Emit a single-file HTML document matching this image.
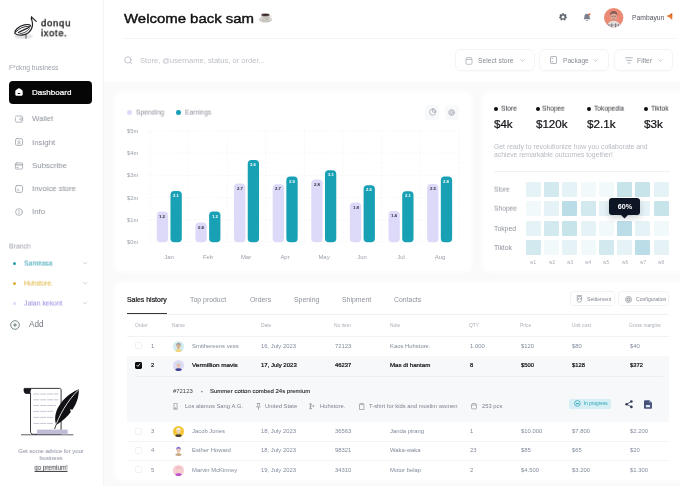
<!DOCTYPE html>
<html><head><meta charset="utf-8"><title>Dashboard</title>
<style>
*{box-sizing:border-box;margin:0;padding:0}
html,body{width:680px;height:486px;overflow:hidden;background:#fafafa}
body{font-family:"Liberation Sans",sans-serif;position:relative;color:#8b919b;-webkit-font-smoothing:antialiased}
.a{position:absolute;white-space:nowrap;line-height:1}
.t{position:absolute;white-space:nowrap;line-height:1;transform:translateY(-50%)}
.tc{position:absolute;white-space:nowrap;line-height:1;transform:translate(-50%,-50%)}
.med{-webkit-text-stroke:0.22px currentColor}
.med2{-webkit-text-stroke:0.1px currentColor}
svg{position:absolute;overflow:visible}
.a,.t,.tc{will-change:transform}
</style></head>
<body>
<div class="a" style="left:0;top:0;width:104px;height:486px;background:#fff;border-right:1px solid #f3f3f4"></div>
<svg style="left:0;top:0" width="103" height="50" viewBox="0 0 103 50">
<ellipse cx="23.6" cy="36.4" rx="9.2" ry="2.7" fill="#e4e4e6"/>
<g fill="none" stroke="#202024" stroke-linecap="round" stroke-linejoin="round">
<path d="M36.2 21.4 L31.5 16.9 C30.8 18.6 32.9 21.6 32.5 25.2 C32.1 28.4 30.6 31 28.4 32.8 C25 35.4 18.6 36.2 15 33.6 C14.2 30.2 18.6 26.2 24.4 24.9 C27.2 24.3 29.8 24.5 30.6 25.6 C30.2 28 24.6 28.6 18.4 32.6" stroke-width="1.15"/>
<path d="M31.5 16.9 L31.2 19.4" stroke-width="0.8"/>
<path d="M16.4 31.6 C18.6 28.6 23.4 26.4 28.8 26.2" stroke-width="0.9"/>
<path d="M20 33.6 C23 33.6 27.2 31.8 29.6 28.6" stroke-width="0.8"/>
<path d="M26 35.2 V38.2" stroke-width="0.8"/>
</g>
</svg>
<div class="a" style="left:41.00px;top:22.85px;font-size:9.6px;color:#191919;letter-spacing:0.7px;transform:translateY(-50%) scaleX(0.994);transform-origin:0 50%;-webkit-text-stroke:0.32px #191919;">donqu</div>
<div class="a" style="left:41.00px;top:33.45px;font-size:9.6px;color:#191919;letter-spacing:0.7px;transform:translateY(-50%) scaleX(0.973);transform-origin:0 50%;-webkit-text-stroke:0.32px #191919;">ixote.</div>
<div class="a" style="left:9.30px;top:68.05px;font-size:6.6px;color:#9a9fa7;transform:translateY(-50%) scaleX(1.022);transform-origin:0 50%;">F*ckng business</div>
<div class="a" style="left:9.4px;top:80.7px;width:82.6px;height:22.7px;background:#060606;border-radius:4px"></div>
<svg style="left:15.2px;top:88.3px" width="8" height="8" viewBox="0 0 8 8"><path d="M0.3 3.4 C0.3 2.8 0.6 2.4 1 2.1 L3.2 0.5 C3.7 0.1 4.3 0.1 4.8 0.5 L7 2.1 C7.4 2.4 7.7 2.8 7.7 3.4 V6.2 C7.7 7.2 7 7.8 6 7.8 H2 C1 7.8 0.3 7.2 0.3 6.2 Z" fill="#fff"/><rect x="2.6" y="5" width="2.8" height="1" rx="0.5" fill="#0a0a0a"/></svg>
<div class="a med" style="left:32.20px;top:93.25px;font-size:7.8px;color:#fff;transform:translateY(-50%) scaleX(1.033);transform-origin:0 50%;">Dashboard</div>
<div class="a" style="left:32.20px;top:119.45px;font-size:7.9px;color:#8d929a;transform:translateY(-50%) scaleX(0.974);transform-origin:0 50%;">Wallet</div>
<svg style="left:15.3px;top:115.2px" width="8" height="8" viewBox="0 0 8 8" fill="none" stroke="#9aa0a8" stroke-width="0.75" stroke-linecap="round" stroke-linejoin="round"><path d="M1.6 1 H6 C7 1 7.6 1.6 7.6 2.6 V5.6 C7.6 6.6 7 7.2 6 7.2 H2 C1 7.2 0.4 6.6 0.4 5.6 V3"/><path d="M7.6 3.2 H5.6 C5 3.2 4.7 3.6 4.7 4.1 C4.7 4.6 5 5 5.6 5 H7.6"/><path d="M0.4 1 H0.5"/></svg>
<div class="a" style="left:32.20px;top:142.65px;font-size:7.9px;color:#8d929a;transform:translateY(-50%) scaleX(0.992);transform-origin:0 50%;">Insight</div>
<svg style="left:15.3px;top:138.39999999999998px" width="8" height="8" viewBox="0 0 8 8" fill="none" stroke="#9aa0a8" stroke-width="0.75" stroke-linecap="round" stroke-linejoin="round"><rect x="0.5" y="0.6" width="7" height="6.8" rx="1.4"/><path d="M4 2.2 V4.6 M2.6 3.4 L4 4.7 L5.4 3.4 M2.4 5.8 H5.6" stroke-width="0.6"/></svg>
<div class="a" style="left:32.20px;top:165.95px;font-size:7.9px;color:#8d929a;transform:translateY(-50%) scaleX(0.993);transform-origin:0 50%;">Subscribe</div>
<svg style="left:15.3px;top:161.7px" width="8" height="8" viewBox="0 0 8 8" fill="none" stroke="#9aa0a8" stroke-width="0.75" stroke-linecap="round" stroke-linejoin="round"><rect x="0.4" y="0.9" width="7.2" height="6.2" rx="1.1"/><path d="M0.4 2.9 H7.6" stroke-width="1"/><path d="M1.8 5.4 H3.2"/></svg>
<div class="a" style="left:32.20px;top:189.25px;font-size:7.9px;color:#8d929a;transform:translateY(-50%) scaleX(0.982);transform-origin:0 50%;">Invoice store</div>
<svg style="left:15.3px;top:185.0px" width="8" height="8" viewBox="0 0 8 8" fill="none" stroke="#9aa0a8" stroke-width="0.75" stroke-linecap="round" stroke-linejoin="round"><rect x="0.5" y="0.6" width="7" height="6.8" rx="1.5"/><path d="M2.2 4 C3.4 4 4 4.6 4 5.8 M2.2 5.6 V5.8" stroke-width="0.65"/></svg>
<div class="a" style="left:32.20px;top:212.15px;font-size:7.9px;color:#8d929a;transform:translateY(-50%) scaleX(0.987);transform-origin:0 50%;">Info</div>
<svg style="left:15.3px;top:207.89999999999998px" width="8" height="8" viewBox="0 0 8 8" fill="none" stroke="#9aa0a8" stroke-width="0.75" stroke-linecap="round" stroke-linejoin="round"><circle cx="4" cy="4" r="3.4"/><path d="M4 2.4 V4.3 M4 5.5 V5.6"/></svg>
<div class="a" style="left:9.30px;top:246.65px;font-size:6.9px;color:#9a9fa7;transform:translateY(-50%) scaleX(0.988);transform-origin:0 50%;">Branch</div>
<div class="a" style="left:13px;top:261.59999999999997px;width:3.2px;height:3.2px;border-radius:50%;background:#2a9cb0"></div>
<div class="a" style="left:24.40px;top:263.65px;font-size:6.9px;color:#2a9cb0;transform:translateY(-50%) scaleX(0.974);transform-origin:0 50%;">Samirasa</div>
<svg style="left:82.6px;top:262.0px" width="4.4" height="2.6" viewBox="0 0 5 3"><path d="M0.4 0.4 L2.5 2.4 L4.6 0.4" fill="none" stroke="#b9bec6" stroke-width="0.8" stroke-linecap="round" stroke-linejoin="round"/></svg>
<div class="a" style="left:13px;top:281.7px;width:3.2px;height:3.2px;border-radius:50%;background:#ddb033"></div>
<div class="a" style="left:24.40px;top:283.75px;font-size:6.9px;color:#ddb033;transform:translateY(-50%) scaleX(0.966);transform-origin:0 50%;">Huhstore.</div>
<svg style="left:82.6px;top:282.1px" width="4.4" height="2.6" viewBox="0 0 5 3"><path d="M0.4 0.4 L2.5 2.4 L4.6 0.4" fill="none" stroke="#b9bec6" stroke-width="0.8" stroke-linecap="round" stroke-linejoin="round"/></svg>
<div class="a" style="left:13px;top:301.5px;width:3.2px;height:3.2px;border-radius:50%;background:#dcd8f8"></div>
<div class="a" style="left:24.40px;top:303.55px;font-size:6.9px;color:#948ae2;transform:translateY(-50%) scaleX(0.991);transform-origin:0 50%;">Jalan kekont</div>
<svg style="left:82.6px;top:301.90000000000003px" width="4.4" height="2.6" viewBox="0 0 5 3"><path d="M0.4 0.4 L2.5 2.4 L4.6 0.4" fill="none" stroke="#b9bec6" stroke-width="0.8" stroke-linecap="round" stroke-linejoin="round"/></svg>
<svg style="left:10px;top:319.8px" width="10" height="10" viewBox="0 0 10 10"><circle cx="5" cy="5" r="4.3" fill="none" stroke="#3d5a55" stroke-width="0.7"/><path d="M5 3.4 V6.6 M3.4 5 H6.6" stroke="#3d5a55" stroke-width="0.7" stroke-linecap="round"/></svg>
<div class="a" style="left:28.60px;top:325.25px;font-size:8.2px;color:#70767f;transform:translateY(-50%) scaleX(1.001);transform-origin:0 50%;">Add</div>
<svg style="left:20px;top:386px" width="62" height="52" viewBox="0 0 62 52">
<path d="M1 48.8 H53.4" stroke="#2a2a33" stroke-width="0.75"/>
<path d="M4.4 2.4 H39.6 C40.6 2.4 41.1 3 41.1 4 V48.3 H13.4 C11.4 48.3 10.5 47.2 10.5 45 V7.4 H6.2 C4.4 7.4 3.8 5.4 4.4 2.4 Z" fill="#fff" stroke="#17171e" stroke-width="0.85" stroke-linejoin="round"/>
<path d="M3.9 2.4 H11.6 C10.6 3.6 10.5 5.4 10.5 7.4 H6.2 C4.2 7.4 3.5 4.6 3.9 2.4 Z" fill="#17171e"/>
<rect x="17.1" y="43.6" width="30.6" height="4.7" fill="#bfbdd6"/>
<g stroke="#aeaec4" stroke-width="0.7" stroke-dasharray="6 0.8">
<path d="M13.4 8 H38.4"/><path d="M13.4 13.8 H38.4"/><path d="M13.4 19.5 H36"/><path d="M13.4 25.4 H34"/><path d="M13.4 31.4 H33"/><path d="M13.4 37.4 H33.6"/>
</g>
<path d="M36.2 38.9 C33.6 31 36 23.4 41.4 16.4 C46 10.4 52.6 5.6 58.8 3.2 C59.2 9.6 57 17 52.4 23.8 L50 23.2 L50.8 26 C47.4 30.4 42.6 35.4 36.2 38.9 Z" fill="#111115"/>
<path d="M34.8 42.4 C38.6 30 47.6 14.4 58.2 4.2" fill="none" stroke="#fff" stroke-width="0.85"/>
<path d="M34.6 43 L36.6 37.6" stroke="#111115" stroke-width="0.8"/>
</svg>
<div class="a" style="left:50.70px;top:451.25px;font-size:6.0px;color:#868aa0;transform:translate(-50%,-50%) scaleX(0.974);transform-origin:50% 50%;">Get some advice for your</div>
<div class="a" style="left:50.70px;top:458.05px;font-size:6.0px;color:#868aa0;transform:translate(-50%,-50%) scaleX(0.954);transform-origin:50% 50%;">business</div>
<div class="a" style="left:50.80px;top:468.25px;font-size:6.3px;color:#2b2b33;transform:translate(-50%,-50%) scaleX(0.940);transform-origin:50% 50%;text-decoration:underline;">go premium!</div>
<div class="a" style="left:104px;top:0;width:576px;height:82px;background:#fff"></div>
<div class="a" style="left:123.50px;top:18.65px;font-size:13.5px;color:#111;transform:translateY(-50%) scaleX(1.106);transform-origin:0 50%;-webkit-text-stroke:0.42px #111;">Welcome back sam</div>
<svg style="left:0;top:0" width="300" height="30" viewBox="0 0 300 30">
<ellipse cx="265.5" cy="19.5" rx="6.6" ry="2.9" fill="#bdbab3"/>
<ellipse cx="265.5" cy="19.1" rx="6.3" ry="2.5" fill="#dddbd5"/>
<ellipse cx="265.4" cy="19.4" rx="3.6" ry="1.3" fill="#b9b6ae"/>
<path d="M269.2 15.6 C271.4 15.2 271.6 17.4 269 17.9" fill="none" stroke="#cfccc5" stroke-width="0.8"/>
<path d="M261.2 14.8 H269.6 C269.6 17.6 268.4 20.2 265.4 20.2 C262.4 20.2 261.2 17.6 261.2 14.8 Z" fill="#c6c3bc"/>
<path d="M262.6 16.6 C262.8 18.4 263.6 19.6 265 19.9" fill="none" stroke="#e9e7e2" stroke-width="0.7"/>
<ellipse cx="265.4" cy="14.9" rx="4.1" ry="1.35" fill="#2b1a18" stroke="#d9d6cf" stroke-width="0.5"/>
</svg>
<div class="a" style="left:123px;top:37.8px;width:552px;height:1px;background:#f3f3f4"></div>
<svg style="left:123.6px;top:56px" width="9" height="9" viewBox="0 0 9 9" fill="none" stroke="#b4b9c0" stroke-width="0.8" stroke-linecap="round"><circle cx="3.9" cy="3.9" r="3.2"/><path d="M6.3 6.3 L8 8"/></svg>
<div class="a" style="left:139.50px;top:60.75px;font-size:6.8px;color:#bdc1c8;transform:translateY(-50%) scaleX(1.116);transform-origin:0 50%;">Store, @username, status, or order...</div>
<svg style="left:559.2px;top:13.4px" width="8" height="8" viewBox="0 0 8 8"><path d="M3.3 0.2 H4.7 L4.95 1.2 L5.7 1.55 L6.6 1.05 L7.5 2.15 L6.9 3 L7.05 3.6 L7.9 4 L7.7 5.2 L6.75 5.35 L6.35 6 L6.6 6.9 L5.5 7.55 L4.8 6.85 H3.2 L2.5 7.55 L1.4 6.9 L1.65 6 L1.25 5.35 L0.3 5.2 L0.1 4 L0.95 3.6 L1.1 3 L0.5 2.15 L1.4 1.05 L2.3 1.55 L3.05 1.2 Z" fill="#5f646e"/><circle cx="4" cy="4" r="1.5" fill="#fff"/></svg>
<svg style="left:582.6px;top:13px" width="9" height="9" viewBox="0 0 9 9"><path d="M4 0.8 C5.7 0.8 6.6 2 6.6 3.6 C6.6 5 7 5.6 7.5 6.3 H0.5 C1 5.6 1.4 5 1.4 3.6 C1.4 2 2.3 0.8 4 0.8 Z" fill="#7b808a"/><path d="M3 7 C3.2 8.2 4.8 8.2 5 7 Z" fill="#7b808a"/><circle cx="6.5" cy="1.3" r="1" fill="#f0643c"/></svg>
<svg style="left:604px;top:8px" width="19.4" height="19.4" viewBox="0 0 20 20"><defs><clipPath id="av"><circle cx="10" cy="10" r="10"/></clipPath></defs><circle cx="10" cy="10" r="10" fill="#ea8a74"/><g clip-path="url(#av)"><path d="M3 21 C3 15.4 6 13.4 10 13.4 C14 13.4 17 15.4 17 21 Z" fill="#e4dedc"/><path d="M5 21 V17 M8 21 V16 M12 21 V16 M15 21 V17" stroke="#6d6a72" stroke-width="1.1"/><path d="M4 17.6 H16" stroke="#8d8a92" stroke-width="0.8"/><ellipse cx="10" cy="8.8" rx="3.5" ry="4.2" fill="#dfa796"/><path d="M6.2 8 C5.8 4.6 7.8 3.2 10 3.2 C12.2 3.2 14.2 4.6 13.8 8 C13 6.4 12 6 10 6 C8 6 7 6.4 6.2 8 Z" fill="#8a5e58"/><path d="M7.8 8.6 H9.4 M10.6 8.6 H12.2" stroke="#6a4a48" stroke-width="0.7"/><path d="M8.2 11 C9 12.6 11 12.6 11.8 11 Z" fill="#a8746a"/></g></svg>
<div class="a" style="left:631.70px;top:18.15px;font-size:6.6px;color:#4f535b;transform:translateY(-50%) scaleX(1.024);transform-origin:0 50%;">Pambayun</div>
<svg style="left:665.6px;top:13.3px" width="7" height="7" viewBox="0 0 7 7"><path d="M0.4 2.9 L6 0.4 L5.8 6.6 L3.4 4.6 Z" fill="#ea7a30"/><path d="M4.4 1.1 L6 0.4 L5.9 3" fill="#a8541c"/><path d="M6.05 0.4 L5.85 6.6" stroke="#c85a22" stroke-width="0.6"/></svg>
<div class="a" style="left:455px;top:49.2px;width:80px;height:21.8px;background:#fff;border:1px solid #f4f4f6;border-radius:6px;box-shadow:0 0.5px 1.5px rgba(0,0,0,0.025)"></div>
<svg style="left:465.2px;top:56.6px" width="8" height="8" viewBox="0 0 8 8" fill="none" stroke="#a3a8b0" stroke-width="0.7" stroke-linejoin="round"><path d="M1 2.4 L1.8 0.6 H6.2 L7 2.4 V6.2 C7 6.9 6.6 7.3 5.9 7.3 H2.1 C1.4 7.3 1 6.9 1 6.2 Z"/><path d="M1 2.4 H7"/></svg>
<div class="a" style="left:477.80px;top:60.85px;font-size:6.4px;color:#878c95;transform:translateY(-50%) scaleX(1.053);transform-origin:0 50%;">Select store</div>
<svg style="left:519.6px;top:59.2px" width="5" height="3" viewBox="0 0 5 3"><path d="M0.5 0.4 L2.5 2.4 L4.5 0.4" fill="none" stroke="#b4b8bf" stroke-width="0.7" stroke-linecap="round" stroke-linejoin="round"/></svg>
<div class="a" style="left:539.4px;top:49.2px;width:70.2px;height:21.8px;background:#fff;border:1px solid #f4f4f6;border-radius:6px;box-shadow:0 0.5px 1.5px rgba(0,0,0,0.025)"></div>
<svg style="left:550.2px;top:56.4px" width="7" height="8" viewBox="0 0 7 8" fill="none" stroke="#969ca4" stroke-width="0.7" stroke-linejoin="round"><rect x="0.5" y="0.5" width="6" height="7" rx="0.6"/><path d="M1.6 2.2 L2.3 2.9 L3.6 1.6 M1.6 5.8 H3.2"/></svg>
<div class="a" style="left:562.60px;top:60.85px;font-size:6.4px;color:#878c95;transform:translateY(-50%) scaleX(1.036);transform-origin:0 50%;">Package</div>
<svg style="left:593px;top:59.2px" width="5" height="3" viewBox="0 0 5 3"><path d="M0.5 0.4 L2.5 2.4 L4.5 0.4" fill="none" stroke="#b4b8bf" stroke-width="0.7" stroke-linecap="round" stroke-linejoin="round"/></svg>
<div class="a" style="left:614px;top:49.2px;width:59px;height:21.8px;background:#fff;border:1px solid #f4f4f6;border-radius:6px;box-shadow:0 0.5px 1.5px rgba(0,0,0,0.025)"></div>
<svg style="left:624.6px;top:57.2px" width="8" height="7" viewBox="0 0 8 7" fill="none" stroke="#969ca4" stroke-width="0.7" stroke-linecap="round"><path d="M0.5 0.8 H7.5 M1.7 3.4 H6.3 M3 6 H5"/></svg>
<div class="a" style="left:636.60px;top:60.85px;font-size:6.4px;color:#878c95;transform:translateY(-50%) scaleX(1.069);transform-origin:0 50%;">Filter</div>
<svg style="left:657.6px;top:59.2px" width="5" height="3" viewBox="0 0 5 3"><path d="M0.5 0.4 L2.5 2.4 L4.5 0.4" fill="none" stroke="#b4b8bf" stroke-width="0.7" stroke-linecap="round" stroke-linejoin="round"/></svg>
<div class="a" style="left:114.8px;top:92.4px;width:356px;height:179.4px;background:#fff;border-radius:7px;box-shadow:0 0 0 2.8px #fcfcfc"></div>
<svg style="left:0;top:0" width="680" height="486" viewBox="0 0 680 486">
<path d="M150 241.80 H459" stroke="#f3f3f5" stroke-width="0.7" stroke-dasharray="2.2 2.2" fill="none"/>
<path d="M150 219.64 H459" stroke="#f3f3f5" stroke-width="0.7" stroke-dasharray="2.2 2.2" fill="none"/>
<path d="M150 197.48 H459" stroke="#f3f3f5" stroke-width="0.7" stroke-dasharray="2.2 2.2" fill="none"/>
<path d="M150 175.32 H459" stroke="#f3f3f5" stroke-width="0.7" stroke-dasharray="2.2 2.2" fill="none"/>
<path d="M150 153.16 H459" stroke="#f3f3f5" stroke-width="0.7" stroke-dasharray="2.2 2.2" fill="none"/>
<path d="M150 131.00 H459" stroke="#f3f3f5" stroke-width="0.7" stroke-dasharray="2.2 2.2" fill="none"/>
<path d="M150.00 131.00 V241.80" stroke="#f3f3f5" stroke-width="0.7" stroke-dasharray="2.2 2.2" fill="none"/>
<path d="M188.62 131.00 V241.80" stroke="#f3f3f5" stroke-width="0.7" stroke-dasharray="2.2 2.2" fill="none"/>
<path d="M227.24 131.00 V241.80" stroke="#f3f3f5" stroke-width="0.7" stroke-dasharray="2.2 2.2" fill="none"/>
<path d="M265.86 131.00 V241.80" stroke="#f3f3f5" stroke-width="0.7" stroke-dasharray="2.2 2.2" fill="none"/>
<path d="M304.48 131.00 V241.80" stroke="#f3f3f5" stroke-width="0.7" stroke-dasharray="2.2 2.2" fill="none"/>
<path d="M343.10 131.00 V241.80" stroke="#f3f3f5" stroke-width="0.7" stroke-dasharray="2.2 2.2" fill="none"/>
<path d="M381.72 131.00 V241.80" stroke="#f3f3f5" stroke-width="0.7" stroke-dasharray="2.2 2.2" fill="none"/>
<path d="M420.34 131.00 V241.80" stroke="#f3f3f5" stroke-width="0.7" stroke-dasharray="2.2 2.2" fill="none"/>
<path d="M458.96 131.00 V241.80" stroke="#f3f3f5" stroke-width="0.7" stroke-dasharray="2.2 2.2" fill="none"/>
<rect x="156.80" y="211.6" width="11.3" height="30.60" rx="3.8" fill="#ddd9f8"/>
<rect x="170.50" y="190.9" width="11.3" height="51.30" rx="3.8" fill="#18a0b5"/>
<rect x="195.42" y="222.4" width="11.3" height="19.80" rx="3.8" fill="#ddd9f8"/>
<rect x="209.12" y="211.5" width="11.3" height="30.70" rx="3.8" fill="#18a0b5"/>
<rect x="234.04" y="183.6" width="11.3" height="58.60" rx="3.8" fill="#ddd9f8"/>
<rect x="247.74" y="160.0" width="11.3" height="82.20" rx="3.8" fill="#18a0b5"/>
<rect x="272.66" y="184.2" width="11.3" height="58.00" rx="3.8" fill="#ddd9f8"/>
<rect x="286.36" y="176.6" width="11.3" height="65.60" rx="3.8" fill="#18a0b5"/>
<rect x="311.28" y="179.4" width="11.3" height="62.80" rx="3.8" fill="#ddd9f8"/>
<rect x="324.98" y="170.2" width="11.3" height="72.00" rx="3.8" fill="#18a0b5"/>
<rect x="349.90" y="202.4" width="11.3" height="39.80" rx="3.8" fill="#ddd9f8"/>
<rect x="363.60" y="185.2" width="11.3" height="57.00" rx="3.8" fill="#18a0b5"/>
<rect x="388.52" y="211.0" width="11.3" height="31.20" rx="3.8" fill="#ddd9f8"/>
<rect x="402.22" y="191.2" width="11.3" height="51.00" rx="3.8" fill="#18a0b5"/>
<rect x="427.14" y="184.0" width="11.3" height="58.20" rx="3.8" fill="#ddd9f8"/>
<rect x="440.84" y="176.6" width="11.3" height="65.60" rx="3.8" fill="#18a0b5"/>
</svg>
<div class="a" style="left:127.3px;top:110.3px;width:4.6px;height:4.6px;border-radius:50%;background:#ddd9f8"></div>
<div class="a" style="left:135.90px;top:112.95px;font-size:6.8px;color:#8d929a;transform:translateY(-50%) scaleX(0.978);transform-origin:0 50%;">Spending</div>
<div class="a" style="left:175.6px;top:110.3px;width:4.7px;height:4.7px;border-radius:50%;background:#18a0b5"></div>
<div class="a" style="left:184.70px;top:112.95px;font-size:6.8px;color:#8d929a;transform:translateY(-50%) scaleX(0.976);transform-origin:0 50%;">Earnings</div>
<div class="a" style="left:425.3px;top:104.8px;width:14.2px;height:14.8px;background:#f8f9fb;border-radius:3px"></div>
<div class="a" style="left:444.6px;top:104.8px;width:14.2px;height:14.8px;background:#f8f9fb;border-radius:3px"></div>
<svg style="left:428.7px;top:108.4px" width="7.6" height="7.6" viewBox="0 0 7 7" fill="none" stroke="#a3a8b1" stroke-width="0.7" stroke-linejoin="round"><circle cx="3.3" cy="3.8" r="2.8"/><path d="M3.3 3.8 V0.6 C5 0.6 6.4 1.9 6.5 3.8 Z"/></svg>
<svg style="left:448.2px;top:108.6px" width="7.2" height="7.2" viewBox="0 0 7 7" fill="none" stroke="#a3a8b1" stroke-width="0.6"><circle cx="3.5" cy="3.5" r="2.7" stroke-dasharray="1.2 0.5" stroke-width="1"/><circle cx="3.5" cy="3.5" r="1.9"/><circle cx="3.5" cy="3.5" r="0.8"/></svg>
<div class="a" style="left:127.00px;top:242.95px;font-size:5.5px;color:#9ba0a8;transform:translateY(-50%) scaleX(1.047);transform-origin:0 50%;">$0m</div>
<div class="a" style="left:127.00px;top:220.79px;font-size:5.5px;color:#9ba0a8;transform:translateY(-50%) scaleX(1.047);transform-origin:0 50%;">$1m</div>
<div class="a" style="left:127.00px;top:198.63px;font-size:5.5px;color:#9ba0a8;transform:translateY(-50%) scaleX(1.047);transform-origin:0 50%;">$2m</div>
<div class="a" style="left:127.00px;top:176.47px;font-size:5.5px;color:#9ba0a8;transform:translateY(-50%) scaleX(1.047);transform-origin:0 50%;">$3m</div>
<div class="a" style="left:127.00px;top:154.31px;font-size:5.5px;color:#9ba0a8;transform:translateY(-50%) scaleX(1.047);transform-origin:0 50%;">$4m</div>
<div class="a" style="left:127.00px;top:132.15px;font-size:5.5px;color:#9ba0a8;transform:translateY(-50%) scaleX(1.047);transform-origin:0 50%;">$5m</div>
<div class="a" style="left:162.45px;top:216.75px;font-size:4.3px;color:#2b2b3a;font-weight:bold;transform:translate(-50%,-50%) scaleX(1.000);transform-origin:50% 50%;">1.2</div>
<div class="a" style="left:176.15px;top:196.05px;font-size:4.3px;color:#fff;font-weight:bold;transform:translate(-50%,-50%) scaleX(1.000);transform-origin:50% 50%;">2.1</div>
<div class="a" style="left:169.20px;top:257.65px;font-size:5.5px;color:#9ba0a8;transform:translate(-50%,-50%) scaleX(1.080);transform-origin:50% 50%;">Jan</div>
<div class="a" style="left:201.07px;top:227.55px;font-size:4.3px;color:#2b2b3a;font-weight:bold;transform:translate(-50%,-50%) scaleX(1.000);transform-origin:50% 50%;">0.8</div>
<div class="a" style="left:214.77px;top:216.65px;font-size:4.3px;color:#fff;font-weight:bold;transform:translate(-50%,-50%) scaleX(1.000);transform-origin:50% 50%;">1.2</div>
<div class="a" style="left:207.82px;top:257.65px;font-size:5.5px;color:#9ba0a8;transform:translate(-50%,-50%) scaleX(1.080);transform-origin:50% 50%;">Feb</div>
<div class="a" style="left:239.69px;top:188.75px;font-size:4.3px;color:#2b2b3a;font-weight:bold;transform:translate(-50%,-50%) scaleX(1.000);transform-origin:50% 50%;">2.7</div>
<div class="a" style="left:253.39px;top:165.15px;font-size:4.3px;color:#fff;font-weight:bold;transform:translate(-50%,-50%) scaleX(1.000);transform-origin:50% 50%;">3.6</div>
<div class="a" style="left:246.44px;top:257.65px;font-size:5.5px;color:#9ba0a8;transform:translate(-50%,-50%) scaleX(1.080);transform-origin:50% 50%;">Mar</div>
<div class="a" style="left:278.31px;top:189.35px;font-size:4.3px;color:#2b2b3a;font-weight:bold;transform:translate(-50%,-50%) scaleX(1.000);transform-origin:50% 50%;">2.7</div>
<div class="a" style="left:292.01px;top:181.75px;font-size:4.3px;color:#fff;font-weight:bold;transform:translate(-50%,-50%) scaleX(1.000);transform-origin:50% 50%;">2.9</div>
<div class="a" style="left:285.06px;top:257.65px;font-size:5.5px;color:#9ba0a8;transform:translate(-50%,-50%) scaleX(1.080);transform-origin:50% 50%;">Apr</div>
<div class="a" style="left:316.93px;top:184.55px;font-size:4.3px;color:#2b2b3a;font-weight:bold;transform:translate(-50%,-50%) scaleX(1.000);transform-origin:50% 50%;">2.8</div>
<div class="a" style="left:330.63px;top:175.35px;font-size:4.3px;color:#fff;font-weight:bold;transform:translate(-50%,-50%) scaleX(1.000);transform-origin:50% 50%;">3.1</div>
<div class="a" style="left:323.68px;top:257.65px;font-size:5.5px;color:#9ba0a8;transform:translate(-50%,-50%) scaleX(1.080);transform-origin:50% 50%;">May</div>
<div class="a" style="left:355.55px;top:207.55px;font-size:4.3px;color:#2b2b3a;font-weight:bold;transform:translate(-50%,-50%) scaleX(1.000);transform-origin:50% 50%;">1.8</div>
<div class="a" style="left:369.25px;top:190.35px;font-size:4.3px;color:#fff;font-weight:bold;transform:translate(-50%,-50%) scaleX(1.000);transform-origin:50% 50%;">2.6</div>
<div class="a" style="left:362.30px;top:257.65px;font-size:5.5px;color:#9ba0a8;transform:translate(-50%,-50%) scaleX(1.080);transform-origin:50% 50%;">Jun</div>
<div class="a" style="left:394.17px;top:216.15px;font-size:4.3px;color:#2b2b3a;font-weight:bold;transform:translate(-50%,-50%) scaleX(1.000);transform-origin:50% 50%;">1.4</div>
<div class="a" style="left:407.87px;top:196.35px;font-size:4.3px;color:#fff;font-weight:bold;transform:translate(-50%,-50%) scaleX(1.000);transform-origin:50% 50%;">2.1</div>
<div class="a" style="left:400.92px;top:257.65px;font-size:5.5px;color:#9ba0a8;transform:translate(-50%,-50%) scaleX(1.080);transform-origin:50% 50%;">Jul</div>
<div class="a" style="left:432.79px;top:189.15px;font-size:4.3px;color:#2b2b3a;font-weight:bold;transform:translate(-50%,-50%) scaleX(1.000);transform-origin:50% 50%;">2.5</div>
<div class="a" style="left:446.49px;top:181.75px;font-size:4.3px;color:#fff;font-weight:bold;transform:translate(-50%,-50%) scaleX(1.000);transform-origin:50% 50%;">2.8</div>
<div class="a" style="left:439.54px;top:257.65px;font-size:5.5px;color:#9ba0a8;transform:translate(-50%,-50%) scaleX(1.080);transform-origin:50% 50%;">Aug</div>
<div class="a" style="left:482.6px;top:92.4px;width:210px;height:179.2px;background:#fff;border-radius:7px;box-shadow:0 0 0 2.8px #fcfcfc"></div>
<div class="a" style="left:494.09999999999997px;top:106.7px;width:4.2px;height:4.2px;border-radius:50%;background:#0d0d0d"></div>
<div class="a" style="left:500.60px;top:109.15px;font-size:6.7px;color:#2d2f34;transform:translateY(-50%) scaleX(0.993);transform-origin:0 50%;">Store</div>
<div class="a med" style="left:493.80px;top:123.75px;font-size:10.7px;color:#111215;transform:translateY(-50%) scaleX(1.078);transform-origin:0 50%;">$4k</div>
<div class="a" style="left:535.9px;top:106.7px;width:4.2px;height:4.2px;border-radius:50%;background:#0d0d0d"></div>
<div class="a" style="left:542.40px;top:109.15px;font-size:6.7px;color:#2d2f34;transform:translateY(-50%) scaleX(0.983);transform-origin:0 50%;">Shopee</div>
<div class="a med" style="left:535.90px;top:123.75px;font-size:10.7px;color:#111215;transform:translateY(-50%) scaleX(1.080);transform-origin:0 50%;">$120k</div>
<div class="a" style="left:587.3px;top:106.7px;width:4.2px;height:4.2px;border-radius:50%;background:#0d0d0d"></div>
<div class="a" style="left:593.80px;top:109.15px;font-size:6.7px;color:#2d2f34;transform:translateY(-50%) scaleX(0.982);transform-origin:0 50%;">Tokopedia</div>
<div class="a med" style="left:586.80px;top:123.75px;font-size:10.7px;color:#111215;transform:translateY(-50%) scaleX(1.089);transform-origin:0 50%;">$2.1k</div>
<div class="a" style="left:644.1px;top:106.7px;width:4.2px;height:4.2px;border-radius:50%;background:#0d0d0d"></div>
<div class="a" style="left:650.60px;top:109.15px;font-size:6.7px;color:#2d2f34;transform:translateY(-50%) scaleX(0.999);transform-origin:0 50%;">Tiktok</div>
<div class="a med" style="left:643.80px;top:123.75px;font-size:10.7px;color:#111215;transform:translateY(-50%) scaleX(1.090);transform-origin:0 50%;">$3k</div>
<div class="a" style="left:493.80px;top:146.85px;font-size:6.6px;color:#b6bac2;transform:translateY(-50%) scaleX(1.035);transform-origin:0 50%;">Get ready to revolutionize how you collaborate and</div>
<div class="a" style="left:493.80px;top:155.35px;font-size:6.6px;color:#b6bac2;transform:translateY(-50%) scaleX(1.027);transform-origin:0 50%;">achieve remarkable outcomes together!</div>
<div class="a" style="left:494px;top:170.6px;width:176px;height:1px;background:#f0f1f2"></div>
<div class="a" style="left:493.80px;top:189.85px;font-size:6.7px;color:#8d929a;transform:translateY(-50%) scaleX(0.974);transform-origin:0 50%;">Store</div>
<div class="a" style="left:525.60px;top:182.00px;width:15.3px;height:14.8px;background:#e5f2f6;border-radius:1.2px"></div>
<div class="a" style="left:543.90px;top:182.00px;width:15.3px;height:14.8px;background:#d3e9f0;border-radius:1.2px"></div>
<div class="a" style="left:562.20px;top:182.00px;width:15.3px;height:14.8px;background:#e5f2f6;border-radius:1.2px"></div>
<div class="a" style="left:580.50px;top:182.00px;width:15.3px;height:14.8px;background:#f2f9fb;border-radius:1.2px"></div>
<div class="a" style="left:598.80px;top:182.00px;width:15.3px;height:14.8px;background:#f2f9fb;border-radius:1.2px"></div>
<div class="a" style="left:617.10px;top:182.00px;width:15.3px;height:14.8px;background:#c8e4eb;border-radius:1.2px"></div>
<div class="a" style="left:635.40px;top:182.00px;width:15.3px;height:14.8px;background:#c8e4eb;border-radius:1.2px"></div>
<div class="a" style="left:653.70px;top:182.00px;width:15.3px;height:14.8px;background:#e5f2f6;border-radius:1.2px"></div>
<div class="a" style="left:493.80px;top:209.25px;font-size:6.7px;color:#8d929a;transform:translateY(-50%) scaleX(0.991);transform-origin:0 50%;">Shopee</div>
<div class="a" style="left:525.60px;top:201.40px;width:15.3px;height:14.8px;background:#f2f9fb;border-radius:1.2px"></div>
<div class="a" style="left:543.90px;top:201.40px;width:15.3px;height:14.8px;background:#e5f2f6;border-radius:1.2px"></div>
<div class="a" style="left:562.20px;top:201.40px;width:15.3px;height:14.8px;background:#bbdde7;border-radius:1.2px"></div>
<div class="a" style="left:580.50px;top:201.40px;width:15.3px;height:14.8px;background:#d3e9f0;border-radius:1.2px"></div>
<div class="a" style="left:598.80px;top:201.40px;width:15.3px;height:14.8px;background:#e5f2f6;border-radius:1.2px"></div>
<div class="a" style="left:617.10px;top:201.40px;width:15.3px;height:14.8px;background:#e5f2f6;border-radius:1.2px"></div>
<div class="a" style="left:635.40px;top:201.40px;width:15.3px;height:14.8px;background:#e5f2f6;border-radius:1.2px"></div>
<div class="a" style="left:653.70px;top:201.40px;width:15.3px;height:14.8px;background:#c8e4eb;border-radius:1.2px"></div>
<div class="a" style="left:493.80px;top:228.65px;font-size:6.7px;color:#8d929a;transform:translateY(-50%) scaleX(1.018);transform-origin:0 50%;">Tokped</div>
<div class="a" style="left:525.60px;top:220.80px;width:15.3px;height:14.8px;background:#e5f2f6;border-radius:1.2px"></div>
<div class="a" style="left:543.90px;top:220.80px;width:15.3px;height:14.8px;background:#d3e9f0;border-radius:1.2px"></div>
<div class="a" style="left:562.20px;top:220.80px;width:15.3px;height:14.8px;background:#c8e4eb;border-radius:1.2px"></div>
<div class="a" style="left:580.50px;top:220.80px;width:15.3px;height:14.8px;background:#e5f2f6;border-radius:1.2px"></div>
<div class="a" style="left:598.80px;top:220.80px;width:15.3px;height:14.8px;background:#f2f9fb;border-radius:1.2px"></div>
<div class="a" style="left:617.10px;top:220.80px;width:15.3px;height:14.8px;background:#bbdde7;border-radius:1.2px"></div>
<div class="a" style="left:635.40px;top:220.80px;width:15.3px;height:14.8px;background:#e5f2f6;border-radius:1.2px"></div>
<div class="a" style="left:653.70px;top:220.80px;width:15.3px;height:14.8px;background:#f2f9fb;border-radius:1.2px"></div>
<div class="a" style="left:493.80px;top:248.05px;font-size:6.7px;color:#8d929a;transform:translateY(-50%) scaleX(1.022);transform-origin:0 50%;">Tiktok</div>
<div class="a" style="left:525.60px;top:240.20px;width:15.3px;height:14.8px;background:#d3e9f0;border-radius:1.2px"></div>
<div class="a" style="left:543.90px;top:240.20px;width:15.3px;height:14.8px;background:#f2f9fb;border-radius:1.2px"></div>
<div class="a" style="left:562.20px;top:240.20px;width:15.3px;height:14.8px;background:#e5f2f6;border-radius:1.2px"></div>
<div class="a" style="left:580.50px;top:240.20px;width:15.3px;height:14.8px;background:#f2f9fb;border-radius:1.2px"></div>
<div class="a" style="left:598.80px;top:240.20px;width:15.3px;height:14.8px;background:#d3e9f0;border-radius:1.2px"></div>
<div class="a" style="left:617.10px;top:240.20px;width:15.3px;height:14.8px;background:#e5f2f6;border-radius:1.2px"></div>
<div class="a" style="left:635.40px;top:240.20px;width:15.3px;height:14.8px;background:#bbdde7;border-radius:1.2px"></div>
<div class="a" style="left:653.70px;top:240.20px;width:15.3px;height:14.8px;background:#e5f2f6;border-radius:1.2px"></div>
<div class="a" style="left:533.25px;top:262.95px;font-size:4.6px;color:#a6abb3;transform:translate(-50%,-50%) scaleX(1.000);transform-origin:50% 50%;">w1</div>
<div class="a" style="left:551.55px;top:262.95px;font-size:4.6px;color:#a6abb3;transform:translate(-50%,-50%) scaleX(1.000);transform-origin:50% 50%;">w2</div>
<div class="a" style="left:569.85px;top:262.95px;font-size:4.6px;color:#a6abb3;transform:translate(-50%,-50%) scaleX(1.000);transform-origin:50% 50%;">w3</div>
<div class="a" style="left:588.15px;top:262.95px;font-size:4.6px;color:#a6abb3;transform:translate(-50%,-50%) scaleX(1.000);transform-origin:50% 50%;">w4</div>
<div class="a" style="left:606.45px;top:262.95px;font-size:4.6px;color:#a6abb3;transform:translate(-50%,-50%) scaleX(1.000);transform-origin:50% 50%;">w5</div>
<div class="a" style="left:624.75px;top:262.95px;font-size:4.6px;color:#a6abb3;transform:translate(-50%,-50%) scaleX(1.000);transform-origin:50% 50%;">w6</div>
<div class="a" style="left:643.05px;top:262.95px;font-size:4.6px;color:#a6abb3;transform:translate(-50%,-50%) scaleX(1.000);transform-origin:50% 50%;">w7</div>
<div class="a" style="left:661.35px;top:262.95px;font-size:4.6px;color:#a6abb3;transform:translate(-50%,-50%) scaleX(1.000);transform-origin:50% 50%;">w8</div>
<div class="a" style="left:609.4px;top:197.6px;width:31px;height:17.4px;background:#0e1626;border-radius:3px;box-shadow:0 3px 6px rgba(20,30,50,0.18)"></div>
<svg style="left:621.2px;top:214.6px" width="7" height="4" viewBox="0 0 7 4"><path d="M0 0 H7 L3.5 3.6 Z" fill="#0e1626"/></svg>
<div class="a" style="left:624.90px;top:205.75px;font-size:7.0px;color:#fff;font-weight:bold;transform:translate(-50%,-50%) scaleX(1.028);transform-origin:50% 50%;">60%</div>
<div class="a" style="left:114.6px;top:282.6px;width:578px;height:197.4px;background:#fff;border-radius:7px;box-shadow:0 0 0 2.8px #fcfcfc"></div>
<div class="a med" style="left:127.00px;top:299.95px;font-size:6.5px;color:#1a1b1f;transform:translateY(-50%) scaleX(1.066);transform-origin:0 50%;">Sales history</div>
<div class="a" style="left:190.20px;top:299.95px;font-size:6.5px;color:#8d929a;transform:translateY(-50%) scaleX(1.062);transform-origin:0 50%;">Top product</div>
<div class="a" style="left:249.90px;top:299.95px;font-size:6.5px;color:#8d929a;transform:translateY(-50%) scaleX(1.062);transform-origin:0 50%;">Orders</div>
<div class="a" style="left:293.80px;top:299.95px;font-size:6.5px;color:#8d929a;transform:translateY(-50%) scaleX(1.062);transform-origin:0 50%;">Spening</div>
<div class="a" style="left:342.00px;top:299.95px;font-size:6.5px;color:#8d929a;transform:translateY(-50%) scaleX(1.062);transform-origin:0 50%;">Shipment</div>
<div class="a" style="left:394.30px;top:299.95px;font-size:6.5px;color:#8d929a;transform:translateY(-50%) scaleX(1.062);transform-origin:0 50%;">Contacts</div>
<div class="a" style="left:127px;top:313.8px;width:542px;height:1px;background:#f0f1f3"></div>
<div class="a" style="left:127px;top:313.2px;width:39.8px;height:1.4px;background:#34363c"></div>
<div class="a" style="left:569.8px;top:291.4px;width:45px;height:15.2px;background:#fff;border:1px solid #f1f2f4;border-radius:3.5px"></div>
<svg style="left:576.3px;top:295.2px" width="6.8" height="7.6" viewBox="0 0 6 7" fill="none" stroke="#777c86" stroke-width="0.55" stroke-linejoin="round"><path d="M1 1.6 H5 V4.6 C5 5.8 4.2 6.5 3 6.5 C1.8 6.5 1 5.8 1 4.6 Z"/><path d="M0.6 0.6 H5.4 M2.2 2.8 V4.4 M3.8 2.8 V4.4"/></svg>
<div class="a" style="left:587.20px;top:299.75px;font-size:4.6px;color:#7f858e;transform:translateY(-50%) scaleX(1.109);transform-origin:0 50%;">Settlement</div>
<div class="a" style="left:618.4px;top:291.4px;width:51px;height:15.2px;background:#fff;border:1px solid #f1f2f4;border-radius:3.5px"></div>
<svg style="left:625px;top:295.6px" width="7" height="7" viewBox="0 0 7 7" fill="none" stroke="#777c86" stroke-width="0.6"><circle cx="3.5" cy="3.5" r="3"/><circle cx="3.5" cy="3.5" r="1.7"/><path d="M2.9 2 V5 M4.1 2 V5" stroke-width="0.45"/></svg>
<div class="a" style="left:636.20px;top:299.75px;font-size:4.6px;color:#7f858e;transform:translateY(-50%) scaleX(1.109);transform-origin:0 50%;">Configuration</div>
<div class="a" style="left:135.10px;top:326.45px;font-size:4.6px;color:#a9aeb6;transform:translateY(-50%) scaleX(1.065);transform-origin:0 50%;">Order</div>
<div class="a" style="left:172.20px;top:326.45px;font-size:4.6px;color:#a9aeb6;transform:translateY(-50%) scaleX(1.065);transform-origin:0 50%;">Name</div>
<div class="a" style="left:260.90px;top:326.45px;font-size:4.6px;color:#a9aeb6;transform:translateY(-50%) scaleX(1.065);transform-origin:0 50%;">Date</div>
<div class="a" style="left:334.20px;top:326.45px;font-size:4.6px;color:#a9aeb6;transform:translateY(-50%) scaleX(1.065);transform-origin:0 50%;">No item</div>
<div class="a" style="left:389.90px;top:326.45px;font-size:4.6px;color:#a9aeb6;transform:translateY(-50%) scaleX(1.065);transform-origin:0 50%;">Note</div>
<div class="a" style="left:469.20px;top:326.45px;font-size:4.6px;color:#a9aeb6;transform:translateY(-50%) scaleX(1.065);transform-origin:0 50%;">QTY</div>
<div class="a" style="left:520.40px;top:326.45px;font-size:4.6px;color:#a9aeb6;transform:translateY(-50%) scaleX(1.065);transform-origin:0 50%;">Price</div>
<div class="a" style="left:571.50px;top:326.45px;font-size:4.6px;color:#a9aeb6;transform:translateY(-50%) scaleX(1.065);transform-origin:0 50%;">Unit cost</div>
<div class="a" style="left:629.20px;top:326.45px;font-size:4.6px;color:#a9aeb6;transform:translateY(-50%) scaleX(1.065);transform-origin:0 50%;">Gross margins</div>
<div class="a" style="left:127px;top:335.8px;width:542px;height:1px;background:#f1f2f4"></div>
<div class="a" style="left:127px;top:355.9px;width:542.4px;height:65.5px;background:#f7f8fa"></div>
<div class="a" style="left:135px;top:376.2px;width:528px;height:1px;background:#eceef1"></div>
<div class="a" style="left:134.6px;top:342.2px;width:7.2px;height:7.2px;background:#fff;border:0.7px solid #eff0f3;border-radius:1.4px"></div>
<div class="a" style="left:151.20px;top:346.75px;font-size:5.5px;color:#808a9b;transform:translateY(-50%) scaleX(1.069);transform-origin:0 50%;">1</div>
<svg style="left:173.2px;top:340.5px" width="11.0" height="11.0" viewBox="0 0 10 10"><defs><clipPath id="ca"><circle cx="5" cy="5" r="5"/></clipPath></defs><circle cx="5" cy="5" r="5" fill="#d3ecf1"/><g clip-path="url(#ca)"><path d="M1.8 10.5 C1.8 8 3.2 7.2 5 7.2 C6.8 7.2 8.2 8 8.2 10.5 Z" fill="#f1d67c"/><rect x="4.3" y="5.6" width="1.4" height="2" fill="#d8b18f"/><ellipse cx="5" cy="4.5" rx="1.9" ry="2.2" fill="#d8b18f"/><path d="M2.9 4.6 C2.6 2.4 3.8 1.5 5 1.5 C6.2 1.5 7.4 2.4 7.1 4.6 C6.6 3.4 6 3.2 5 3.2 C4 3.2 3.4 3.4 2.9 4.6 Z" fill="#9c9a98"/></g></svg>
<div class="a" style="left:191.90px;top:346.75px;font-size:5.5px;color:#808a9b;transform:translateY(-50%) scaleX(1.069);transform-origin:0 50%;">Smithereens vess</div>
<div class="a" style="left:261.40px;top:346.75px;font-size:5.5px;color:#808a9b;transform:translateY(-50%) scaleX(1.069);transform-origin:0 50%;">16, July 2023</div>
<div class="a" style="left:334.70px;top:346.75px;font-size:5.5px;color:#808a9b;transform:translateY(-50%) scaleX(1.069);transform-origin:0 50%;">72123</div>
<div class="a" style="left:390.40px;top:346.75px;font-size:5.5px;color:#808a9b;transform:translateY(-50%) scaleX(1.069);transform-origin:0 50%;">Kaos Huhstore.</div>
<div class="a" style="left:469.70px;top:346.75px;font-size:5.5px;color:#808a9b;transform:translateY(-50%) scaleX(1.069);transform-origin:0 50%;">1.000</div>
<div class="a" style="left:520.90px;top:346.75px;font-size:5.5px;color:#808a9b;transform:translateY(-50%) scaleX(1.069);transform-origin:0 50%;">$120</div>
<div class="a" style="left:572.00px;top:346.75px;font-size:5.5px;color:#808a9b;transform:translateY(-50%) scaleX(1.069);transform-origin:0 50%;">$80</div>
<div class="a" style="left:629.70px;top:346.75px;font-size:5.5px;color:#808a9b;transform:translateY(-50%) scaleX(1.069);transform-origin:0 50%;">$40</div>
<div class="a" style="left:134.6px;top:361.79999999999995px;width:7.2px;height:7.2px;background:#0c0c0e;border-radius:1.4px"></div>
<svg style="left:136px;top:363.2px" width="4.6" height="4.4" viewBox="0 0 5 5"><path d="M0.8 2.6 L2 3.9 L4.3 1" fill="none" stroke="#fff" stroke-width="0.9" stroke-linecap="round" stroke-linejoin="round"/></svg>
<div class="a med" style="left:151.20px;top:366.35px;font-size:5.6px;color:#121317;transform:translateY(-50%) scaleX(1.036);transform-origin:0 50%;">2</div>
<svg style="left:173.2px;top:360.09999999999997px" width="11.0" height="11.0" viewBox="0 0 10 10"><defs><clipPath id="cb"><circle cx="5" cy="5" r="5"/></clipPath></defs><circle cx="5" cy="5" r="5" fill="#dddaf6"/><g clip-path="url(#cb)"><path d="M1.8 10.5 C1.8 8 3.2 7.2 5 7.2 C6.8 7.2 8.2 8 8.2 10.5 Z" fill="#3d4191"/><rect x="4.3" y="5.6" width="1.4" height="2" fill="#e3c2ae"/><ellipse cx="5" cy="4.5" rx="1.9" ry="2.2" fill="#e3c2ae"/><path d="M2.9 4.6 C2.6 2.4 3.8 1.5 5 1.5 C6.2 1.5 7.4 2.4 7.1 4.6 C6.6 3.4 6 3.2 5 3.2 C4 3.2 3.4 3.4 2.9 4.6 Z" fill="#cfe3f2"/></g></svg>
<div class="a med" style="left:191.90px;top:366.35px;font-size:5.6px;color:#121317;transform:translateY(-50%) scaleX(1.131);transform-origin:0 50%;">Vermillion mavis</div>
<div class="a med" style="left:261.40px;top:366.35px;font-size:5.6px;color:#121317;transform:translateY(-50%) scaleX(1.074);transform-origin:0 50%;">17, July 2023</div>
<div class="a med" style="left:334.70px;top:366.35px;font-size:5.6px;color:#121317;transform:translateY(-50%) scaleX(1.036);transform-origin:0 50%;">46237</div>
<div class="a med" style="left:390.40px;top:366.35px;font-size:5.6px;color:#121317;transform:translateY(-50%) scaleX(1.097);transform-origin:0 50%;">Mas di hantam</div>
<div class="a med" style="left:469.70px;top:366.35px;font-size:5.6px;color:#121317;transform:translateY(-50%) scaleX(1.036);transform-origin:0 50%;">8</div>
<div class="a med" style="left:520.90px;top:366.35px;font-size:5.6px;color:#121317;transform:translateY(-50%) scaleX(1.036);transform-origin:0 50%;">$500</div>
<div class="a med" style="left:572.00px;top:366.35px;font-size:5.6px;color:#121317;transform:translateY(-50%) scaleX(1.036);transform-origin:0 50%;">$128</div>
<div class="a med" style="left:629.70px;top:366.35px;font-size:5.6px;color:#121317;transform:translateY(-50%) scaleX(1.036);transform-origin:0 50%;">$372</div>
<div class="a" style="left:134.6px;top:427.59999999999997px;width:7.2px;height:7.2px;background:#fff;border:0.7px solid #eff0f3;border-radius:1.4px"></div>
<div class="a" style="left:151.20px;top:432.15px;font-size:5.5px;color:#808a9b;transform:translateY(-50%) scaleX(1.069);transform-origin:0 50%;">3</div>
<svg style="left:173.2px;top:425.9px" width="11.0" height="11.0" viewBox="0 0 10 10"><defs><clipPath id="cc"><circle cx="5" cy="5" r="5"/></clipPath></defs><circle cx="5" cy="5" r="5" fill="#f2c634"/><g clip-path="url(#cc)"><path d="M1.8 10.5 C1.8 8 3.2 7.2 5 7.2 C6.8 7.2 8.2 8 8.2 10.5 Z" fill="#4a4038"/><rect x="4.3" y="5.6" width="1.4" height="2" fill="#ecd2b8"/><ellipse cx="5" cy="4.5" rx="1.9" ry="2.2" fill="#ecd2b8"/><path d="M2.9 4.6 C2.6 2.4 3.8 1.5 5 1.5 C6.2 1.5 7.4 2.4 7.1 4.6 C6.6 3.4 6 3.2 5 3.2 C4 3.2 3.4 3.4 2.9 4.6 Z" fill="#f7f3ea"/></g></svg>
<div class="a" style="left:191.90px;top:432.15px;font-size:5.5px;color:#808a9b;transform:translateY(-50%) scaleX(1.069);transform-origin:0 50%;">Jacob Jones</div>
<div class="a" style="left:261.40px;top:432.15px;font-size:5.5px;color:#808a9b;transform:translateY(-50%) scaleX(1.069);transform-origin:0 50%;">18, July 2023</div>
<div class="a" style="left:334.70px;top:432.15px;font-size:5.5px;color:#808a9b;transform:translateY(-50%) scaleX(1.069);transform-origin:0 50%;">36563</div>
<div class="a" style="left:390.40px;top:432.15px;font-size:5.5px;color:#808a9b;transform:translateY(-50%) scaleX(1.069);transform-origin:0 50%;">Janda pirang</div>
<div class="a" style="left:469.70px;top:432.15px;font-size:5.5px;color:#808a9b;transform:translateY(-50%) scaleX(1.069);transform-origin:0 50%;">1</div>
<div class="a" style="left:520.90px;top:432.15px;font-size:5.5px;color:#808a9b;transform:translateY(-50%) scaleX(1.069);transform-origin:0 50%;">$10.000</div>
<div class="a" style="left:572.00px;top:432.15px;font-size:5.5px;color:#808a9b;transform:translateY(-50%) scaleX(1.069);transform-origin:0 50%;">$7.800</div>
<div class="a" style="left:629.70px;top:432.15px;font-size:5.5px;color:#808a9b;transform:translateY(-50%) scaleX(1.069);transform-origin:0 50%;">$2.200</div>
<div class="a" style="left:134.6px;top:446.9px;width:7.2px;height:7.2px;background:#fff;border:0.7px solid #eff0f3;border-radius:1.4px"></div>
<div class="a" style="left:151.20px;top:451.45px;font-size:5.5px;color:#808a9b;transform:translateY(-50%) scaleX(1.069);transform-origin:0 50%;">4</div>
<svg style="left:173.2px;top:445.2px" width="11.0" height="11.0" viewBox="0 0 10 10"><defs><clipPath id="cd"><circle cx="5" cy="5" r="5"/></clipPath></defs><circle cx="5" cy="5" r="5" fill="#ffffff"/><g clip-path="url(#cd)"><path d="M1.8 10.5 C1.8 8 3.2 7.2 5 7.2 C6.8 7.2 8.2 8 8.2 10.5 Z" fill="#c9a98a"/><rect x="4.3" y="5.6" width="1.4" height="2" fill="#e8c3aa"/><ellipse cx="5" cy="4.5" rx="1.9" ry="2.2" fill="#e8c3aa"/><path d="M2.9 4.6 C2.6 2.4 3.8 1.5 5 1.5 C6.2 1.5 7.4 2.4 7.1 4.6 C6.6 3.4 6 3.2 5 3.2 C4 3.2 3.4 3.4 2.9 4.6 Z" fill="#7a6ee0"/></g></svg>
<div class="a" style="left:191.90px;top:451.45px;font-size:5.5px;color:#808a9b;transform:translateY(-50%) scaleX(1.069);transform-origin:0 50%;">Esther Howard</div>
<div class="a" style="left:261.40px;top:451.45px;font-size:5.5px;color:#808a9b;transform:translateY(-50%) scaleX(1.069);transform-origin:0 50%;">18, July 2023</div>
<div class="a" style="left:334.70px;top:451.45px;font-size:5.5px;color:#808a9b;transform:translateY(-50%) scaleX(1.069);transform-origin:0 50%;">98321</div>
<div class="a" style="left:390.40px;top:451.45px;font-size:5.5px;color:#808a9b;transform:translateY(-50%) scaleX(1.069);transform-origin:0 50%;">Waka-waka</div>
<div class="a" style="left:469.70px;top:451.45px;font-size:5.5px;color:#808a9b;transform:translateY(-50%) scaleX(1.069);transform-origin:0 50%;">23</div>
<div class="a" style="left:520.90px;top:451.45px;font-size:5.5px;color:#808a9b;transform:translateY(-50%) scaleX(1.069);transform-origin:0 50%;">$85</div>
<div class="a" style="left:572.00px;top:451.45px;font-size:5.5px;color:#808a9b;transform:translateY(-50%) scaleX(1.069);transform-origin:0 50%;">$65</div>
<div class="a" style="left:629.70px;top:451.45px;font-size:5.5px;color:#808a9b;transform:translateY(-50%) scaleX(1.069);transform-origin:0 50%;">$20</div>
<div class="a" style="left:134.6px;top:466.4px;width:7.2px;height:7.2px;background:#fff;border:0.7px solid #eff0f3;border-radius:1.4px"></div>
<div class="a" style="left:151.20px;top:470.95px;font-size:5.5px;color:#808a9b;transform:translateY(-50%) scaleX(1.069);transform-origin:0 50%;">5</div>
<svg style="left:173.2px;top:464.7px" width="11.0" height="11.0" viewBox="0 0 10 10"><defs><clipPath id="ce"><circle cx="5" cy="5" r="5"/></clipPath></defs><circle cx="5" cy="5" r="5" fill="#f8ccd2"/><g clip-path="url(#ce)"><path d="M1.8 10.5 C1.8 8 3.2 7.2 5 7.2 C6.8 7.2 8.2 8 8.2 10.5 Z" fill="#bf4fd0"/><rect x="4.3" y="5.6" width="1.4" height="2" fill="#f3d3c8"/><ellipse cx="5" cy="4.5" rx="1.9" ry="2.2" fill="#f3d3c8"/><path d="M2.9 4.6 C2.6 2.4 3.8 1.5 5 1.5 C6.2 1.5 7.4 2.4 7.1 4.6 C6.6 3.4 6 3.2 5 3.2 C4 3.2 3.4 3.4 2.9 4.6 Z" fill="#f0b6bd"/></g></svg>
<div class="a" style="left:191.90px;top:470.95px;font-size:5.5px;color:#808a9b;transform:translateY(-50%) scaleX(1.069);transform-origin:0 50%;">Marvin McKinney</div>
<div class="a" style="left:261.40px;top:470.95px;font-size:5.5px;color:#808a9b;transform:translateY(-50%) scaleX(1.069);transform-origin:0 50%;">19, July 2023</div>
<div class="a" style="left:334.70px;top:470.95px;font-size:5.5px;color:#808a9b;transform:translateY(-50%) scaleX(1.069);transform-origin:0 50%;">34310</div>
<div class="a" style="left:390.40px;top:470.95px;font-size:5.5px;color:#808a9b;transform:translateY(-50%) scaleX(1.069);transform-origin:0 50%;">Motor belap</div>
<div class="a" style="left:469.70px;top:470.95px;font-size:5.5px;color:#808a9b;transform:translateY(-50%) scaleX(1.069);transform-origin:0 50%;">2</div>
<div class="a" style="left:520.90px;top:470.95px;font-size:5.5px;color:#808a9b;transform:translateY(-50%) scaleX(1.069);transform-origin:0 50%;">$4.500</div>
<div class="a" style="left:572.00px;top:470.95px;font-size:5.5px;color:#808a9b;transform:translateY(-50%) scaleX(1.069);transform-origin:0 50%;">$3.200</div>
<div class="a" style="left:629.70px;top:470.95px;font-size:5.5px;color:#808a9b;transform:translateY(-50%) scaleX(1.069);transform-origin:0 50%;">$1.300</div>
<div class="a" style="left:127px;top:441px;width:542px;height:1px;background:#f2f3f5"></div>
<div class="a" style="left:127px;top:459.8px;width:542px;height:1px;background:#f2f3f5"></div>
<div class="a" style="left:172.70px;top:392.15px;font-size:5.5px;color:#41454e;transform:translateY(-50%) scaleX(1.073);transform-origin:0 50%;">#72123</div>
<div class="a" style="left:200.60px;top:391.95px;font-size:6.4px;color:#41454e;font-weight:bold;transform:translateY(-50%) scaleX(1.000);transform-origin:0 50%;">·</div>
<div class="a med2" style="left:210.20px;top:392.15px;font-size:5.5px;color:#1f2025;transform:translateY(-50%) scaleX(1.093);transform-origin:0 50%;">Summer cotton combed 24s premium</div>
<div class="a" style="left:184.60px;top:407.05px;font-size:5.4px;color:#7d838c;transform:translateY(-50%) scaleX(1.083);transform-origin:0 50%;">Los alamos Sang A.G.</div>
<div class="a" style="left:265.20px;top:407.05px;font-size:5.4px;color:#7d838c;transform:translateY(-50%) scaleX(1.083);transform-origin:0 50%;">United State</div>
<div class="a" style="left:319.80px;top:407.05px;font-size:5.4px;color:#7d838c;transform:translateY(-50%) scaleX(1.083);transform-origin:0 50%;">Huhstore.</div>
<div class="a" style="left:369.30px;top:407.05px;font-size:5.4px;color:#7d838c;transform:translateY(-50%) scaleX(1.083);transform-origin:0 50%;">T-shirt for kids and muslim women</div>
<div class="a" style="left:481.70px;top:407.05px;font-size:5.4px;color:#7d838c;transform:translateY(-50%) scaleX(1.083);transform-origin:0 50%;">253 pcs</div>
<svg style="left:172.6px;top:403.2px" width="5" height="6.6" viewBox="0 0 5 6.6" fill="none" stroke="#7d838c" stroke-width="0.55" stroke-linejoin="round"><path d="M0.9 6.2 V0.5 H4.1 V6.2 M0.3 6.2 H4.7 M2 6.2 V4.8 H3 V6.2"/></svg>
<svg style="left:255.6px;top:402.8px" width="5" height="7" viewBox="0 0 5 7" fill="none" stroke="#7d838c" stroke-width="0.55" stroke-linejoin="round" stroke-linecap="round"><path d="M1.2 0.5 H3.8 M1.6 0.5 V2.6 L0.6 4 H4.4 L3.4 2.6 V0.5 M2.5 4 V6.5"/></svg>
<svg style="left:308.8px;top:403.2px" width="6" height="6.6" viewBox="0 0 6 6.6" fill="none" stroke="#7d838c" stroke-width="0.55" stroke-linecap="round"><circle cx="1.4" cy="1.2" r="0.8"/><circle cx="1.4" cy="5.4" r="0.8"/><path d="M1.4 2 V4.6 M1.4 3.6 C1.4 3 2 3 3 3 H5 M4.2 2.2 L5 3 L4.2 3.8"/></svg>
<svg style="left:359px;top:403px" width="5.4" height="7" viewBox="0 0 5.4 7" fill="none" stroke="#7d838c" stroke-width="0.6" stroke-linejoin="round"><path d="M1.4 1 H0.5 V6.5 H4.9 V1 H4"/><rect x="1.4" y="0.4" width="2.6" height="1.2" rx="0.4"/></svg>
<svg style="left:471.2px;top:403.4px" width="6" height="6.4" viewBox="0 0 6 6.4" fill="none" stroke="#7d838c" stroke-width="0.6" stroke-linejoin="round"><path d="M0.5 2 L1.4 0.5 H4.6 L5.5 2 V5 C5.5 5.6 5.1 5.9 4.6 5.9 H1.4 C0.9 5.9 0.5 5.6 0.5 5 Z M0.5 2 H5.5"/></svg>
<div class="a" style="left:569.2px;top:398.8px;width:42.2px;height:9.9px;background:#d6eff4;border-radius:1.6px"></div>
<svg style="left:573.9px;top:400.3px" width="6.8" height="6.8" viewBox="0 0 6 6" fill="none" stroke="#23a0b4" stroke-width="0.65"><circle cx="3" cy="3" r="2.5"/><path d="M1.8 3.2 H4.2" stroke-width="1"/></svg>
<div class="a" style="left:583.50px;top:403.95px;font-size:4.5px;color:#23a0b4;transform:translateY(-50%) scaleX(1.053);transform-origin:0 50%;">In progress</div>
<svg style="left:624.6px;top:400.2px" width="8" height="8.4" viewBox="0 0 8 8.4"><path d="M6.3 1.5 L1.7 4.2 L6.3 6.9" fill="none" stroke="#333b55" stroke-width="0.8"/><circle cx="6.4" cy="1.5" r="1.3" fill="#333b55"/><circle cx="1.6" cy="4.2" r="1.3" fill="#333b55"/><circle cx="6.4" cy="6.9" r="1.3" fill="#333b55"/></svg>
<svg style="left:644.1px;top:399.7px" width="8.2" height="9" viewBox="0 0 7 9" preserveAspectRatio="none"><path d="M0.8 0.2 H4.6 L6.8 2.4 V8 C6.8 8.5 6.5 8.8 6 8.8 H0.8 C0.3 8.8 0 8.5 0 8 V1 C0 0.5 0.3 0.2 0.8 0.2 Z" fill="#47527c"/><path d="M4.6 0.2 V2.4 H6.8 Z" fill="#9aa4c2"/><rect x="1.6" y="5" width="3.6" height="2.2" rx="0.3" fill="#dfe5f3"/></svg>
</body></html>
